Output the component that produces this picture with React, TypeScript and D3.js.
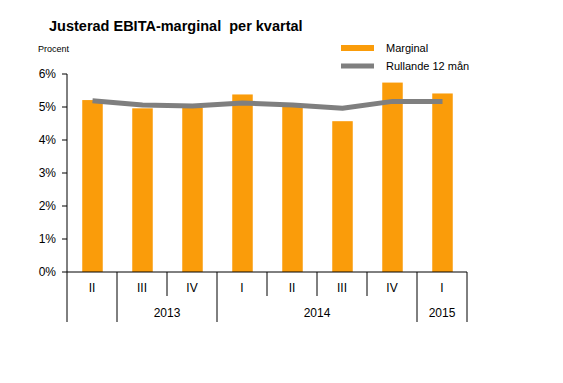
import React from "react";
import * as d3 from "d3";

const quarters = ["II", "III", "IV", "I", "II", "III", "IV", "I"];
const marginal = [5.21, 4.96, 4.98, 5.38, 5.07, 4.57, 5.74, 5.41];
const rolling = [5.19, 5.06, 5.03, 5.12, 5.06, 4.96, 5.17, 5.17];
const yearGroups = [
  { label: "", start: 0, end: 1 },
  { label: "2013", start: 1, end: 3 },
  { label: "2014", start: 3, end: 7 },
  { label: "2015", start: 7, end: 8 },
];
const yTicks = [0, 1, 2, 3, 4, 5, 6];

export default function App() {
  const W = 563, H = 383;
  const left = 67, right = 467, top = 74, bottom = 272;
  const x = d3.scaleBand<number>().domain(d3.range(quarters.length)).range([left, right]).paddingInner(0).paddingOuter(0);
  const y = d3.scaleLinear().domain([0, 6]).range([bottom, top]);
  const bw = 20.5;
  const orange = "#FA9C0A";
  const font = "Liberation Sans, Arial, sans-serif";
  const line = d3.line<number>().x((_, i) => x(i)! + x.bandwidth() / 2 + 0.5).y((d) => y(d));
  const groupBounds = new Set<number>();
  yearGroups.forEach((g) => { groupBounds.add(g.start); groupBounds.add(g.end); });

  return (
    <svg width={W} height={H} style={{ position: "absolute", left: 0, top: 0, background: "#fff" }} fontFamily={font}>
      <rect width={W} height={H} fill="#fff" />
      <text x={49} y={31} fontSize={14.5} fontWeight="bold" fill="#000" style={{ whiteSpace: "pre" }}>Justerad EBITA-marginal  per kvartal</text>
      <text x={38} y={52} fontSize={9} fill="#000">Procent</text>
      {/* legend */}
      <rect x={341} y={45} width={33} height={6} fill={orange} />
      <text x={386} y={52} fontSize={11} fill="#000">Marginal</text>
      <line x1={341} x2={374} y1={66} y2={66} stroke="#7F7F7F" strokeWidth={5} />
      <text x={386} y={70} fontSize={11} fill="#000">Rullande 12 mån</text>
      {/* y axis */}
      <line x1={left} x2={left} y1={top} y2={bottom} stroke="#000" strokeWidth={1} />
      {yTicks.map((t) => (
        <g key={t}>
          <line x1={left - 5} x2={left} y1={y(t)} y2={y(t)} stroke="#000" />
          <text x={56} y={y(t) + 4} fontSize={12} textAnchor="end" fill="#000">{t}%</text>
        </g>
      ))}
      {/* bars */}
      {marginal.map((v, i) => (
        <rect key={i} x={x(i)! + x.bandwidth() / 2 - bw / 2 + 0.5} y={y(v)} width={bw} height={bottom - y(v)} fill={orange} />
      ))}
      {/* line */}
      <path d={line(rolling)!} fill="none" stroke="#7F7F7F" strokeWidth={5} strokeLinejoin="round" />
      {/* x axis */}
      <line x1={left} x2={right} y1={bottom} y2={bottom} stroke="#000" />
      {d3.range(quarters.length + 1).map((i) => {
        const xx = i < quarters.length ? x(i)! : right;
        const full = groupBounds.has(i);
        return <line key={i} x1={xx} x2={xx} y1={bottom} y2={full ? 322 : 296} stroke="#000" />;
      })}
      {quarters.map((q, i) => (
        <text key={i} x={x(i)! + x.bandwidth() / 2} y={292} fontSize={12} textAnchor="middle" fill="#000">{q}</text>
      ))}
      {yearGroups.map((g, i) => {
        const x0 = x(g.start)!;
        const x1 = g.end < quarters.length ? x(g.end)! : right;
        return <text key={i} x={(x0 + x1) / 2} y={317} fontSize={12} textAnchor="middle" fill="#000">{g.label}</text>;
      })}
    </svg>
  );
}
